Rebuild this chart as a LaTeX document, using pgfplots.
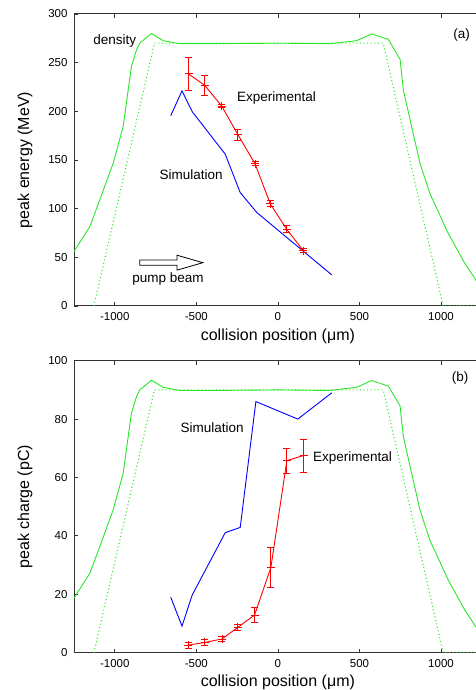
\documentclass[border=0pt]{standalone}
\usepackage{pgfplots}
\pgfplotsset{compat=1.18}
\usepackage{fontspec}
\setmainfont{Liberation Sans}

\definecolor{dgreen}{RGB}{40,230,40}
\definecolor{axgray}{RGB}{50,50,50}

\newcommand{\tickfont}{\fontsize{11.5}{13}\selectfont}
\newcommand{\labfont}{\fontsize{16}{18}\selectfont}
\newcommand{\annfont}{\fontsize{13.5}{15}\selectfont}

\pgfplotsset{
  panel/.style={
    anchor=south west,
    scale only axis,
    width=407.8pt, height=292pt,
    xmin=-1250, xmax=1250, ymin=0,
    axis line style={axgray, line width=1pt},
    tick style={axgray, line width=0.8pt},
    tick align=inside,
    major tick length=4pt,
    xtick={-1000,-500,0,500,1000},
    xticklabels={-1000,-500,0,500,1000},
    tick label style={font=\tickfont},
    yticklabel style={xshift=-3pt},
    xticklabel style={yshift=-3pt},
    /pgf/number format/assume math mode=true,
    xlabel={collision position (μm)},
    xlabel style={font=\labfont, at={(axis description cs:0.5,-0.1027)}, anchor=center},
    ylabel style={font=\labfont, at={(axis description cs:-0.1202,0.5)}, anchor=center},
    clip=true,
  },
  dens/.style={dgreen, line width=0.9pt, mark=none},
  dots/.style={dgreen, line width=1.1pt, dash pattern=on 1pt off 2.6pt, mark=none},
  sim/.style={blue, line width=0.9pt, mark=none},
  expt/.style={red, line width=0.9pt, mark=+, mark size=4pt,
    mark options={solid, line width=0.9pt},
    error bars/.cd, y dir=both, y explicit,
    error bar style={red, line width=0.9pt},
    error mark options={rotate=90, mark size=3.5pt, red, line width=0.9pt}},
}

\begin{document}
\begin{tikzpicture}
\useasboundingbox (0pt,0pt) rectangle (475pt,690pt);

% ---- (a) peak energy
\begin{axis}[panel, at={(74pt,384pt)},
  ymax=300, ytick={0,50,100,150,200,250,300},
  ylabel={peak energy (MeV)}]

\addplot[dens] coordinates {
  (-1251,55.8) (-1153,81.5) (-1092,109) (-1010,146.6) (-949,184)
  (-898,246) (-867,263) (-847,270) (-775,280) (-704,272.6)
  (-602,269.5) (-400,269.5) (0,270) (320,269.5) (483,272.6)
  (575,279.5) (677,274) (749,253.4) (769,222) (871,146.6)
  (932,115.5) (1044,74.6) (1146,43.8) (1208,28) (1250,17)
};
\addplot[dots] coordinates {
  (-1128,0) (-757,270) (646,270) (1013,0) (1250,0)
};
\addplot[sim] coordinates {
  (-657,195.5) (-588,221) (-525,199.6) (-323,156)
  (-231,116.5) (-129,96) (330,32)
};
\addplot[expt] coordinates {
  (-548,238.4) +- (0,17)
  (-449,226.8) +- (0,10.3)
  (-345,205.5) +- (0,2)
  (-245,176) +- (0,5.5)
  (-140,146) +- (0,2)
  (-47,105) +- (0,3)
  (53,79) +- (0,3.4)
  (155,57) +- (0,2)
};

\draw[black, line width=0.8pt, fill=white]
  (axis cs:-847,47.2) -- (axis cs:-619,47.2) -- (axis cs:-619,52.2)
  -- (axis cs:-460,44.5) -- (axis cs:-619,36.8) -- (axis cs:-619,41.8)
  -- (axis cs:-847,41.8) -- cycle;

\node[font=\annfont, anchor=west, inner sep=0pt] at (axis cs:-1133,272.6) {density};
\node[font=\annfont, anchor=west, inner sep=0pt] at (axis cs:-251,213.4) {Experimental};
\node[font=\annfont, anchor=west, inner sep=0pt] at (axis cs:-726,134.6) {Simulation};
\node[font=\annfont, anchor=west, inner sep=0pt] at (axis cs:-893,27.4) {pump beam};
\node[font=\annfont, anchor=west, inner sep=0pt] at (axis cs:1075,278.4) {(a)};
\end{axis}

% ---- (b) peak charge
\begin{axis}[panel, at={(74pt,37.3pt)},
  ymax=100, ytick={0,20,40,60,80,100},
  ylabel={peak charge (pC)}]

\addplot[dens] coordinates {
  (-1251,18.6) (-1153,27.2) (-1092,36.3) (-1010,48.9) (-949,61.3)
  (-898,82) (-867,87.7) (-847,90) (-775,93.3) (-704,90.9)
  (-602,89.8) (-400,89.8) (0,90) (320,89.8) (483,90.9)
  (575,93.2) (677,91.3) (749,84.5) (769,74) (871,48.9)
  (932,38.5) (1044,24.9) (1146,14.6) (1208,9.3) (1250,5.7)
};
\addplot[dots] coordinates {
  (-1128,0) (-757,90) (646,90) (1013,0) (1250,0)
};
\addplot[sim] coordinates {
  (-657,19) (-588,9.1) (-525,19.8) (-323,41.1)
  (-231,42.9) (-135,86) (122,80) (330,89)
};
\addplot[expt] coordinates {
  (-551,2.6) +- (0,1)
  (-449,3.5) +- (0,1)
  (-343,4.7) +- (0,1)
  (-245,8.7) +- (0,1)
  (-143,12.9) +- (0,2.7)
  (-43,29.2) +- (0,6.9)
  (55,65.8) +- (0,4.3)
  (157,67.5) +- (0,5.7)
};

\node[font=\annfont, anchor=west, inner sep=0pt] at (axis cs:-598,77.2) {Simulation};
\node[font=\annfont, anchor=west, inner sep=0pt] at (axis cs:214,66.6) {Experimental};
\node[font=\annfont, anchor=west, inner sep=0pt] at (axis cs:1065,94) {(b)};
\end{axis}
\end{tikzpicture}
\end{document}
